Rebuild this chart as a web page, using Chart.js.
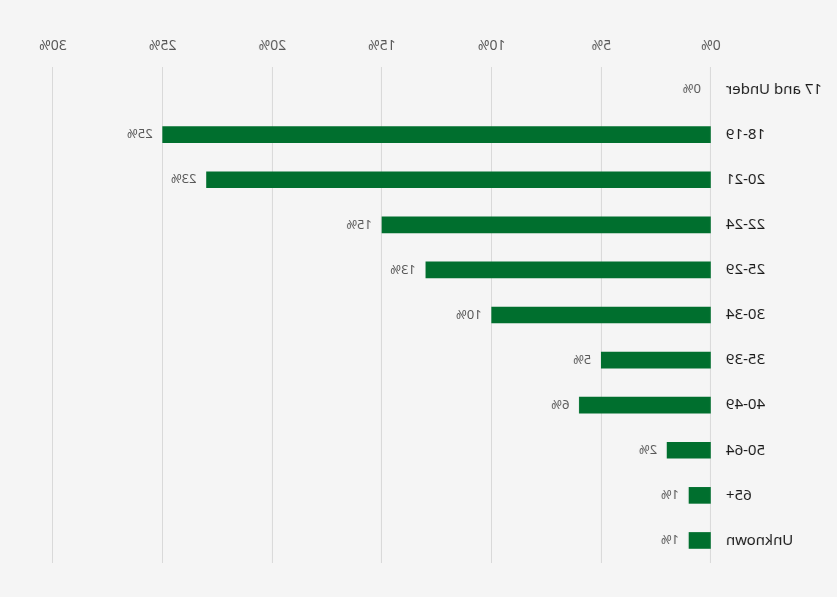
<!DOCTYPE html>
<html>
<head>
<meta charset="utf-8">
<script src="https://cdn.jsdelivr.net/npm/chart.js@4"></script>
<style>
  html, body { margin: 0; padding: 0; background: #f5f5f5; }
  /* the reference is a mirror image, so flip the drawn chart */
  #ageChart { display: block; transform: scaleX(-1); }
</style>
</head>
<body>
<canvas id="ageChart" width="837" height="597"></canvas>
<script>
const ageGroups = [
  "17 and Under", "18-19", "20-21", "22-24", "25-29",
  "30-34", "35-39", "40-49", "50-64", "65+", "Unknown",
];
const sharePct = [0, 25, 23, 15, 13, 10, 5, 6, 2, 1, 1];
const tickPct = [0, 5, 10, 15, 20, 25, 30];

const barLabels = {
  id: "barLabels",
  afterDatasetsDraw: (chart) => {
    const { ctx } = chart;
    const meta = chart.getDatasetMeta(0);
    ctx.save();
    ctx.font = "13px 'Noto Sans'";
    ctx.fillStyle = "#595959";
    ctx.textAlign = "left";
    ctx.textBaseline = "middle";
    meta.data.forEach((bar, i) => {
      ctx.fillText(sharePct[i] + "%", bar.x + 10, bar.y);
    });
    ctx.restore();
  },
};

const bgPlugin = {
  id: "bg",
  beforeDraw: (chart) => {
    const { ctx } = chart;
    ctx.save();
    ctx.fillStyle = "#f5f5f5";
    ctx.fillRect(0, 0, chart.width, chart.height);
    ctx.restore();
  },
};

new Chart(document.getElementById("ageChart"), {
  type: "bar",
  data: {
    labels: ageGroups,
    datasets: [
      {
        data: sharePct,
        // no mark at all for a 0% bar
        backgroundColor: (c) => (c.raw > 0 ? "#006f2e" : "rgba(0,0,0,0)"),
        barThickness: 16,
      },
    ],
  },
  options: {
    indexAxis: "y",
    responsive: false,
    animation: false,
    layout: { padding: { left: 0, right: 53, top: 0, bottom: 34 } },
    plugins: {
      legend: { display: false },
      tooltip: { enabled: false },
    },
    scales: {
      x: {
        position: "top",
        min: 0,
        max: 30,
        afterFit: (scale) => { scale.height = 67; },
        afterBuildTicks: (scale) => {
          scale.ticks = tickPct.map((v) => ({ value: v }));
        },
        grid: { color: "#d9d9d9", drawTicks: false },
        border: { display: false },
        ticks: {
          padding: 13,
          color: "#595959",
          font: { family: "Noto Sans", size: 14 },
          callback: (v) => v + "%",
        },
      },
      y: {
        afterFit: (scale) => { scale.width = 126; },
        grid: { display: false, drawTicks: false },
        border: { display: false },
        ticks: {
          padding: 15,
          color: "#1a1a1a",
          font: { family: "Noto Sans", size: 15 },
        },
      },
    },
  },
  plugins: [bgPlugin, barLabels],
});
</script>
</body>
</html>
